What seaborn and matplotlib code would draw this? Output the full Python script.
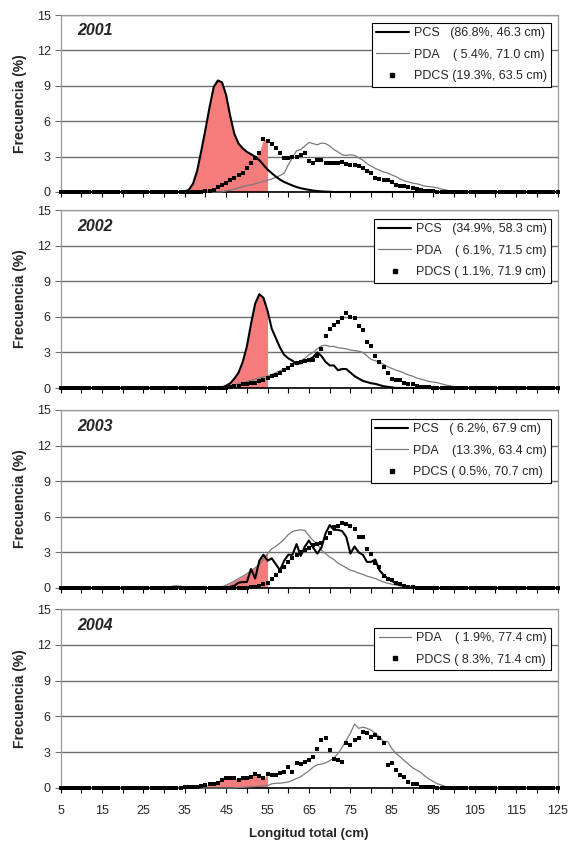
import numpy as np
import pandas as pd
import matplotlib
matplotlib.use("Agg")
import matplotlib.pyplot as plt
import seaborn as sns
from matplotlib.lines import Line2D

sns.set_theme(style="white")
plt.rcParams['font.family'] = ['Liberation Sans', 'DejaVu Sans']

# ---------------- data (frequency %, by 1-cm length class) ----------------
lengths = np.arange(5, 126)
years = ["2001", "2002", "2003", "2004"]

# each series: first length class with a non-zero value, then the values
pcs_2001_start = 35
pcs_2001 = [0.02, 0.2, 0.7, 1.8, 3.5, 5.3, 7.2, 8.9, 9.45, 9.3, 8.2, 6.4, 4.9, 4.1, 3.7,
            3.4, 3.2, 3.0, 2.7, 2.3, 1.9, 1.6, 1.3, 1.05, 0.85, 0.7, 0.55, 0.42, 0.32,
            0.25, 0.18, 0.12, 0.08, 0.05, 0.03, 0.02]
pda_2001_start = 45
pda_2001 = [0.1, 0.15, 0.25, 0.35, 0.45, 0.55, 0.6, 0.7, 0.8, 0.9, 1.0, 1.1, 1.25, 1.4,
            1.6, 2.3, 2.9, 3.5, 3.6, 3.9, 4.2, 4.1, 4.0, 4.15, 4.1, 3.9, 3.6, 3.4, 3.15,
            3.1, 3.15, 3.1, 2.9, 2.7, 2.4, 2.2, 2.0, 1.85, 1.7, 1.6, 1.45, 1.3, 1.1, 0.95,
            0.85, 0.75, 0.7, 0.6, 0.5, 0.45, 0.42, 0.35, 0.25, 0.18, 0.1, 0.05]
pdcs_2001_start = 40
pdcs_2001 = [0.05, 0.1, 0.2, 0.4, 0.6, 0.8, 1.0, 1.2, 1.4, 1.6, 2.0, 2.5, 2.9, 3.3, 4.5,
             4.3, 4.1, 3.7, 3.3, 2.9, 2.9, 3.0, 3.0, 3.1, 3.3, 2.6, 2.5, 2.7, 2.7, 2.45,
             2.45, 2.45, 2.45, 2.55, 2.4, 2.3, 2.3, 2.2, 2.0, 1.8, 1.6, 1.2, 1.1, 1.0,
             1.0, 0.85, 0.6, 0.5, 0.5, 0.4, 0.3, 0.25, 0.2, 0.1, 0.08, 0.05, 0.03]

pcs_2002_start = 44
pcs_2002 = [0.05, 0.2, 0.4, 0.8, 1.3, 2.2, 3.5, 5.4, 7.1, 7.9, 7.6, 6.5, 5.0, 4.2, 3.4,
            2.8, 2.5, 2.3, 2.0, 2.1, 2.3, 2.4, 2.6, 3.0, 2.7, 2.2, 1.9, 1.9, 1.5, 1.6,
            1.6, 1.3, 1.0, 0.8, 0.6, 0.5, 0.4, 0.35, 0.25, 0.15, 0.1, 0.05]
pda_2002_start = 45
pda_2002 = [0.05, 0.15, 0.25, 0.35, 0.45, 0.55, 0.65, 0.75, 0.85, 0.95, 1.0, 1.15, 1.3,
            1.45, 1.6, 1.75, 1.9, 2.1, 2.3, 2.5, 2.8, 3.0, 3.3, 3.55, 3.6, 3.5, 3.5, 3.4,
            3.35, 3.3, 3.2, 3.15, 3.1, 3.0, 2.7, 2.4, 2.3, 2.15, 2.0, 1.8, 1.65, 1.5, 1.4,
            1.25, 1.1, 1.0, 0.85, 0.75, 0.65, 0.55, 0.5, 0.45, 0.35, 0.25, 0.2, 0.1, 0.05]
pdcs_2002_start = 46
pdcs_2002 = [0.1, 0.15, 0.2, 0.3, 0.35, 0.4, 0.45, 0.55, 0.7, 0.85, 1.0, 1.1, 1.3, 1.5,
             1.7, 1.9, 2.1, 2.2, 2.3, 2.35, 2.4, 2.7, 3.3, 4.4, 5.0, 5.3, 5.6, 5.9, 6.3,
             6.0, 5.9, 5.2, 4.9, 3.9, 3.5, 2.7, 2.2, 1.8, 1.3, 0.75, 0.7, 0.7, 0.45, 0.35,
             0.3, 0.2, 0.1, 0.08, 0.05]

pcs_2003_start = 32
pcs_2003 = [0.1, 0.12, 0.1, 0.0, 0.0, 0.0, 0.0, 0.0, 0.0, 0.0, 0.0, 0.0, 0.0, 0.05, 0.1,
            0.2, 0.45, 0.5, 0.5, 1.6, 0.8, 2.3, 2.8, 2.3, 2.5, 2.0, 1.5, 2.3, 2.8, 2.8,
            3.7, 2.7, 3.5, 4.0, 3.4, 2.9, 3.4, 4.6, 5.3, 4.9, 4.9, 4.8, 4.3, 2.9, 3.5,
            3.0, 2.8, 2.2, 2.2, 2.4, 1.5, 1.1, 0.8, 0.6, 0.4, 0.3, 0.15, 0.1]
pda_2003_start = 44
pda_2003 = [0.1, 0.25, 0.4, 0.6, 0.8, 1.0, 1.2, 1.45, 1.7, 2.0, 2.4, 2.9, 3.3, 3.5, 3.8,
            4.1, 4.5, 4.75, 4.85, 4.9, 4.85, 4.4, 4.0, 3.7, 3.2, 2.9, 2.6, 2.4, 2.1, 1.9,
            1.7, 1.5, 1.4, 1.25, 1.15, 1.0, 0.9, 0.8, 0.65, 0.5, 0.4, 0.32, 0.25, 0.18,
            0.1, 0.05]
pdcs_2003_start = 51
pdcs_2003 = [0.05, 0.1, 0.2, 0.3, 0.4, 0.8, 1.1, 1.4, 1.8, 2.2, 2.5, 2.8, 3.0, 3.2, 3.4,
             3.6, 3.7, 3.8, 4.2, 4.6, 5.1, 5.2, 5.5, 5.4, 5.2, 5.0, 4.3, 4.3, 3.3, 2.9,
             2.1, 1.8, 1.0, 0.8, 0.65, 0.45, 0.3, 0.2, 0.1, 0.05]

pda_2004_start = 47
pda_2004 = [0.02, 0.05, 0.05, 0.08, 0.1, 0.12, 0.15, 0.18, 0.2, 0.35, 0.4, 0.4, 0.45, 0.5,
            0.65, 0.8, 0.95, 1.2, 1.45, 1.75, 1.95, 2.0, 2.1, 2.3, 2.5, 2.9, 3.4, 4.0, 4.6,
            5.35, 5.0, 5.1, 5.0, 4.85, 4.6, 4.3, 3.9, 3.9, 3.3, 2.9, 2.6, 2.3, 2.0, 1.7,
            1.5, 1.3, 1.0, 0.75, 0.55, 0.35, 0.25, 0.12, 0.08, 0.05]
pdcs_2004_start = 35
pdcs_2004 = [0.05, 0.05, 0.1, 0.1, 0.15, 0.25, 0.3, 0.3, 0.45, 0.65, 0.8, 0.8, 0.85, 0.65,
             0.8, 0.85, 0.95, 1.15, 1.0, 0.8, 1.15, 1.1, 1.1, 1.25, 1.35, 1.8, 1.35, 2.1,
             2.0, 2.2, 2.35, 2.6, 3.3, 4.0, 4.2, 3.2, 2.4, 2.35, 2.2, 3.75, 3.6, 4.0, 4.2,
             4.7, 4.6, 4.3, 4.45, 4.2, 3.75, 1.95, 2.1, 1.5, 1.1, 0.95, 0.5, 0.3, 0.3, 0.1,
             0.1, 0.08, 0.05]

legend_2001 = ["PCS   (86.8%, 46.3 cm)", "PDA    ( 5.4%, 71.0 cm)", "PDCS (19.3%, 63.5 cm)"]
legend_2002 = ["PCS   (34.9%, 58.3 cm)", "PDA    ( 6.1%, 71.5 cm)", "PDCS ( 1.1%, 71.9 cm)"]
legend_2003 = ["PCS   ( 6.2%, 67.9 cm)", "PDA    (13.3%, 63.4 cm)", "PDCS ( 0.5%, 70.7 cm)"]
legend_2004 = ["PDA    ( 1.9%, 77.4 cm)", "PDCS ( 8.3%, 71.4 cm)"]

size_limit = 55  # shaded up to this length
y_ticks = [0, 3, 6, 9, 12, 15]
x_ticks = list(range(5, 126, 10))


def full(start, vals):
    out = np.zeros(len(lengths))
    i = start - lengths[0]
    out[i:i + len(vals)] = vals
    return out


panels = [
    ("2001", {"PCS": full(pcs_2001_start, pcs_2001), "PDA": full(pda_2001_start, pda_2001),
              "PDCS": full(pdcs_2001_start, pdcs_2001)}, legend_2001),
    ("2002", {"PCS": full(pcs_2002_start, pcs_2002), "PDA": full(pda_2002_start, pda_2002),
              "PDCS": full(pdcs_2002_start, pdcs_2002)}, legend_2002),
    ("2003", {"PCS": full(pcs_2003_start, pcs_2003), "PDA": full(pda_2003_start, pda_2003),
              "PDCS": full(pdcs_2003_start, pdcs_2003)}, legend_2003),
    ("2004", {"PDA": full(pda_2004_start, pda_2004),
              "PDCS": full(pdcs_2004_start, pdcs_2004)}, legend_2004),
]

W, H = 568, 843
fig = plt.figure(figsize=(W / 100, H / 100), dpi=100)
left_px, right_px = 60.5, 557.5
tops = [15, 210, 410, 609]
bottoms = [192, 388, 588, 788]
legend_tops = [23, 219, 419, 628]

styles = {
    "PCS": dict(color="black", lw=1.5),
    "PDA": dict(color="#7a7a7a", lw=0.9),
}
fill_color = "#F47C7C"

for k, (year, series, labels) in enumerate(panels):
    ax = fig.add_axes([left_px / W, 1 - bottoms[k] / H, (right_px - left_px) / W,
                       (bottoms[k] - tops[k]) / H])
    df = pd.concat([pd.DataFrame({"length": lengths, "freq": v, "series": s})
                    for s, v in series.items()], ignore_index=True)

    top = np.max(np.vstack(list(series.values())), axis=0)
    m = lengths <= size_limit
    ax.fill_between(lengths[m], 0, top[m], color=fill_color, lw=0, zorder=1)

    handles = []
    for s in ["PDA", "PCS"]:
        if s in series:
            sns.lineplot(data=df[df.series == s], x="length", y="freq", ax=ax,
                         color=styles[s]["color"], lw=styles[s]["lw"], zorder=3,
                         clip_on=False, legend=False)
    sns.scatterplot(data=df[df.series == "PDCS"], x="length", y="freq", ax=ax,
                    marker="s", s=5, color="black", linewidth=0, zorder=4,
                    clip_on=False, legend=False)

    for s in series:
        if s == "PDCS":
            handles.append(Line2D([], [], marker="s", ms=2.2, ls="none", color="black"))
        else:
            handles.append(Line2D([], [], **styles[s]))

    ax.set_xlim(5, 125)
    ax.set_ylim(0, 15)
    ax.set_yticks(y_ticks)
    ax.set_xticks(x_ticks)
    ax.set_xticks(range(5, 126, 5), minor=True)
    ax.yaxis.grid(True, color="#6e6e6e", lw=1.0, zorder=0)
    ax.xaxis.grid(False)
    ax.set_axisbelow(True)
    for sp in ["left", "top", "right"]:
        ax.spines[sp].set_color("#9a9a9a")
        ax.spines[sp].set_linewidth(0.9)
    ax.spines["bottom"].set_color("black")
    ax.spines["bottom"].set_linewidth(1.2)
    ax.tick_params(axis="x", which="both", direction="out", length=3.5, width=0.8,
                   color="black", bottom=True, labelsize=9, pad=9)
    ax.tick_params(axis="y", direction="out", length=4, width=0.8, color="#6e6e6e",
                   left=True, labelsize=9, pad=3)
    if k < 3:
        ax.tick_params(axis="x", which="both", labelbottom=False)
        ax.set_xlabel("")
    else:
        ax.set_xlabel("Longitud total (cm)", fontsize=9.5, fontweight="bold", labelpad=8)
    ax.set_ylabel("Frecuencia (%)", fontsize=10, fontweight="bold")
    ax.yaxis.set_label_coords(-0.068, 0.5)

    ax.text(0.033, 0.91, year, transform=ax.transAxes, fontsize=11.5,
            fontweight="bold", fontstyle="italic", va="center", ha="left")

    ly = (bottoms[k] - legend_tops[k]) / (bottoms[k] - tops[k])
    leg = ax.legend(handles, labels, loc="upper right", bbox_to_anchor=(0.987, ly),
                    frameon=True, fancybox=False, edgecolor="black", framealpha=1,
                    fontsize=9, handlelength=2.6, handletextpad=0.4, borderpad=0.35,
                    labelspacing=0.75, borderaxespad=0)
    leg.get_frame().set_linewidth(0.8)

fig.savefig("out.png", dpi=100)
